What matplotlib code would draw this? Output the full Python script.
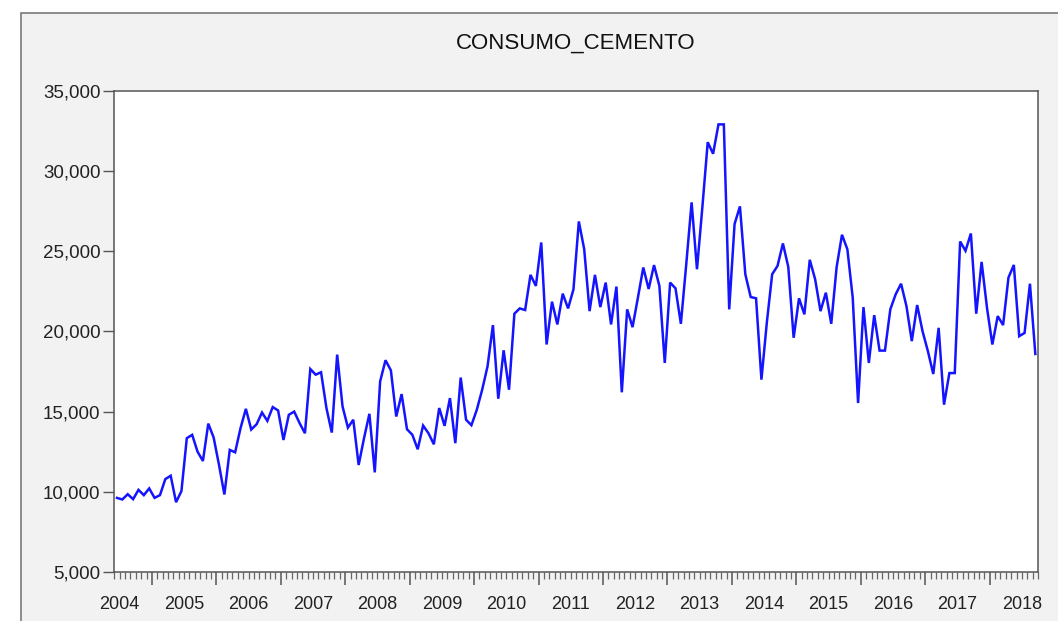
import numpy as np
import pandas as pd
import matplotlib
matplotlib.use("Agg")
import matplotlib.pyplot as plt
from matplotlib.patches import Rectangle
from matplotlib.ticker import FuncFormatter, FixedLocator

# ---- data (monthly, 2004M06 .. 2018M09) ----
start_period = "2004-06"
values = [
    9620, 9520, 9850, 9540, 10120, 9790, 10210, 9620, 9790, 10790, 11000, 9350,
    10040, 13340, 13550, 12500, 11920, 14250, 13380, 11670, 9830, 12610, 12460, 13960,
    15170, 13880, 14210, 14940, 14420, 15280, 15070, 13230, 14800, 15000, 14280, 13650,
    17650, 17300, 17450, 15220, 13690, 18550, 15320, 14000, 14490, 11670, 13340, 14860,
    11210, 16880, 18200, 17570, 14690, 16090, 13900, 13550, 12650, 14130, 13650, 12960,
    15220, 14110, 15840, 13030, 17120, 14490, 14150, 15110, 16360, 17820, 20390, 15800,
    18820, 16360, 21100, 21430, 21330, 23520, 22830, 25540, 19180, 21850, 20430, 22350,
    21430, 22620, 26850, 25120, 21260, 23520, 21510, 23040, 20430, 22790, 16200, 21370,
    20260, 22100, 23980, 22640, 24130, 22830, 18030, 23040, 22680, 20470, 24180, 28040,
    23870, 27730, 31790, 31070, 32900, 32900, 21370, 26690, 27790, 23560, 22140, 22060,
    16990, 20530, 23560, 24080, 25480, 24020, 19600, 22060, 21060, 24460, 23250, 21260,
    22410, 20470, 24000, 26020, 25120, 22100, 15530, 21510, 18030, 21010, 18800, 18800,
    21370, 22310, 22970, 21580, 19390, 21640, 20010, 18760, 17340, 20220, 15430, 17400,
    17400, 25600, 25020, 26100, 21100, 24330, 21470, 19180, 20950, 20390, 23350, 24140,
    19700, 19900, 22970, 18590,
]
title = "CONSUMO_CEMENTO"
y_ticks = [5000, 10000, 15000, 20000, 25000, 30000, 35000]
year_labels = list(range(2004, 2019))

months = pd.period_range(start_period, periods=len(values), freq="M")
x = np.arange(len(values))

font_list = ["Liberation Sans Narrow", "Liberation Sans", "DejaVu Sans"]
plt.rcParams["font.family"] = font_list

fig = plt.figure(figsize=(10.58, 6.21), dpi=100, facecolor="white")

# outer EViews-like panel (drawn behind the axes)
panel = Rectangle((21 / 1058, -0.1), 1.2, 1 - 13 / 621 + 0.1,
                  transform=fig.transFigure, facecolor="#f2f2f2",
                  edgecolor="#7a7a7a", linewidth=1.2, zorder=-10)
fig.patches.append(panel)

ax = fig.add_axes([114.3 / 1058, 1 - 572 / 621, (1038 - 114.3) / 1058, (572 - 90.7) / 621])
ax.set_zorder(5)
ax.set_facecolor("white")
ax.plot(x, values, color="#1414ff", linewidth=1.8, solid_joinstyle="miter")

ax.set_xlim(-0.5, len(values) - 0.5)
ax.set_ylim(5000, 35000)
ax.set_yticks(y_ticks)
ax.yaxis.set_major_formatter(FuncFormatter(lambda v, p: f"{int(v):,}"))
ax.tick_params(axis="y", direction="out", length=8, width=1, color="#555555",
               labelsize=13.5, labelcolor="#222222", pad=2)

# month boundaries (minor) and year boundaries (major)
month_idx = np.array([p.month for p in months])
year_bounds = [i - 0.5 for i in x if month_idx[i] == 1]
ax.xaxis.set_major_locator(FixedLocator(year_bounds))
ax.xaxis.set_minor_locator(FixedLocator(list(np.arange(-0.5, len(values), 1.0))))
ax.tick_params(axis="x", which="major", direction="out", length=9, width=1.1,
               color="#555555", labelbottom=False)
ax.tick_params(axis="x", which="minor", direction="out", length=5, width=0.9,
               color="#666666")

# year labels centered on year intervals
first_jan = year_bounds[0]
centers = [first_jan - 6 + 12 * (yr - year_labels[0]) for yr in year_labels]
sec = ax.secondary_xaxis("bottom")
sec.set_xticks(centers)
sec.set_xticklabels([str(y) for y in year_labels])
sec.tick_params(length=0, pad=17, labelsize=13, labelcolor="#222222")
for s in sec.spines.values():
    s.set_visible(False)

for s in ax.spines.values():
    s.set_color("#555555")
    s.set_linewidth(1.1)

fig.text((114.3 + 1038) / 2 / 1058, 1 - 43 / 621, title, ha="center", va="center",
         fontsize=16, color="#111111")

fig.savefig("out.png", dpi=100, facecolor=fig.get_facecolor())
